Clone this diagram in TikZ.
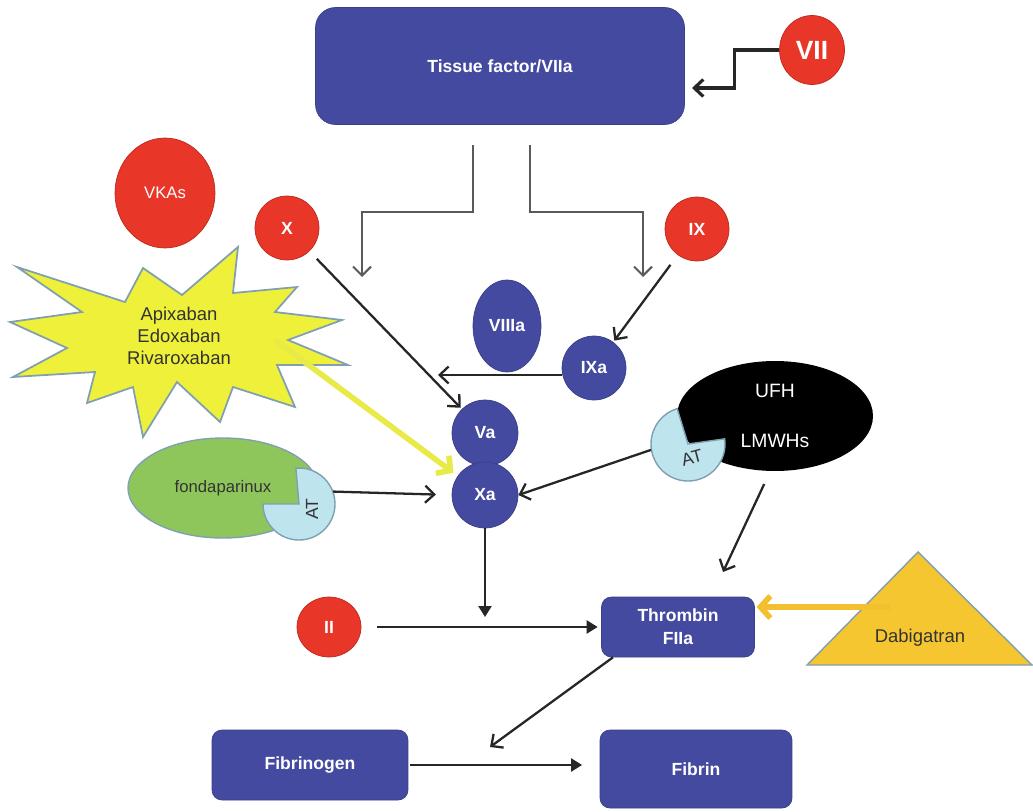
\documentclass[tikz,border=0pt]{standalone}
\usepackage{fontspec}
\setmainfont{Liberation Sans}
\usetikzlibrary{shapes.geometric,arrows.meta}

\definecolor{fblue}{RGB}{67,74,160}
\definecolor{fred}{RGB}{232,54,40}
\definecolor{burst}{RGB}{238,240,58}
\definecolor{rim}{RGB}{128,160,178}
\definecolor{fgreen}{RGB}{142,198,92}
\definecolor{atblue}{RGB}{190,228,238}
\definecolor{dabfill}{RGB}{246,198,48}
\definecolor{yarrow}{RGB}{232,234,72}
\definecolor{oarrow}{RGB}{242,192,46}
\definecolor{cgrey}{RGB}{90,90,90}
\newcommand{\fsz}[1]{\fontsize{#1}{1.25\dimexpr#1pt\relax}\selectfont}

\begin{document}
\begin{tikzpicture}[x=0.02cm,y=-0.02cm,
  bluebox/.style={draw=fblue!85!black, fill=fblue, rounded corners=0.2cm,
    text=white, font=\bfseries\fsz{10}, align=center, inner sep=0pt},
  redball/.style={circle, draw=fred!80!black, fill=fred, text=white,
    font=\bfseries\fsz{10}, inner sep=0pt},
  blueball/.style={circle, draw=fblue!85!black, fill=fblue, text=white,
    font=\bfseries\fsz{10}, inner sep=0pt},
  atpie/.style={draw=rim, fill=atblue, line width=0.8pt},
  arr/.style={draw=black!85, line width=1.3pt, -{Straight Barb[length=1.8mm,width=3.4mm]}},
  farr/.style={draw=black!85, line width=1.3pt, -{Triangle[length=2.2mm,width=2.6mm]}},
  gconn/.style={draw=cgrey, line width=1.2pt, -{Straight Barb[length=1.8mm,width=3.6mm]}},
  fatarr/.style={line width=3.2pt, -{Straight Barb[length=2mm,width=4.4mm]}}]
\useasboundingbox (0,0) rectangle (1033,811);

% blue boxes
\node[bluebox, minimum width=7.38cm, minimum height=2.34cm, rounded corners=0.4cm] (tf) at (500,66) {Tissue factor/VIIa};
\node[bluebox, minimum width=3.06cm, minimum height=1.2cm, font=\bfseries\fontsize{10}{13}\selectfont] (thr) at (678,627) {Thrombin\\FIIa};
\node[bluebox, minimum width=3.92cm, minimum height=1.4cm] (fgen) at (310,765) {Fibrinogen};
\node[bluebox, minimum width=3.84cm, minimum height=1.56cm] (fib) at (696,769) {Fibrin};

% factors
\node[redball, ellipse, minimum width=1.3cm, minimum height=1.38cm, font=\bfseries\fsz{15}] (vii) at (812,50) {VII};
\node[redball, ellipse, minimum width=2cm, minimum height=2.2cm, font=\fsz{9.5}] (vkas) at (165,193) {VKAs};
\node[redball, minimum size=1.28cm] (fx) at (287,228) {X};
\node[redball, minimum size=1.28cm] (fix) at (697,229) {IX};
\node[redball, ellipse, minimum width=1.28cm, minimum height=1.2cm] (fii) at (329,627) {II};
\node[blueball, ellipse, minimum width=1.36cm, minimum height=1.84cm] (viiia) at (507,326) {VIIIa};
\node[blueball, minimum size=1.28cm] (ixa) at (594,368) {IXa};
\node[blueball, minimum size=1.32cm] (va) at (485,433) {Va};
\node[blueball, minimum size=1.32cm] (xa) at (485,495) {Xa};

% oral Xa inhibitors
\filldraw[draw=rim, fill=burst, line width=1pt]
     (17,267) -- (125,302) -- (143,268) -- (182,295) -- (238,247) -- (233,293)
  -- (297,287) -- (275,312) -- (342,320) -- (288,340) -- (348,365) -- (277,365)
  -- (295,407) -- (233,387) -- (220,422) -- (177,382) -- (143,437) -- (133,387)
  -- (87,403) -- (95,372) -- (13,377) -- (67,348) -- (10,322) -- (82,312) -- cycle;
\node[align=center, text=black!80, font=\fontsize{10.5}{12.6}\selectfont] (xabans) at (179,336) {Apixaban\\Edoxaban\\Rivaroxaban};

% fondaparinux with AT
\node[ellipse, draw=rim, fill=fgreen, line width=0.8pt, minimum width=3.8cm, minimum height=2cm,
  text=black!80, font=\fsz{9.5}] (fonda) at (223,488) {fondaparinux};
\node[circle, minimum size=1.44cm, inner sep=0pt] (atf) at (299,504) {};
\filldraw[atpie] (atf.center) -- ++(-180:36) arc[start angle=-180, end angle=-455, radius=36] -- cycle;
\node[rotate=90, text=black!80, font=\fsz{10}] (atflbl) at (312,509) {AT};

% heparins with AT
\node[ellipse, fill=black, minimum width=3.92cm, minimum height=2.2cm, text=white,
  align=center, font=\fsz{11}] (ufh) at (775,416) {UFH\\[15pt]LMWHs};
\node[circle, minimum size=1.48cm, inner sep=0pt] (atu) at (688,444) {};
\filldraw[atpie] (atu.center) -- ++(-107:37) arc[start angle=-107, end angle=-368, radius=37] -- cycle;
\node[rotate=15, text=black!80, font=\fsz{10}] (atulbl) at (692,458) {AT};

% dabigatran
\filldraw[draw=rim, fill=dabfill, line width=0.8pt] (807,665) -- (1032,665) -- (918,552) -- cycle;
\node[text=black!80, font=\fsz{10.5}] (dab) at (920,638) {Dabigatran};

% free ends
\coordinate (tfin) at (692,88);
\coordinate (tl) at (473,145);
\coordinate (tr) at (530,145);
\coordinate (xjoin) at (362,277);
\coordinate (ixjoin) at (643,277);
\coordinate (vjoin) at (438,375);
\coordinate (xabs) at (275,340);
\coordinate (hep) at (723,572);
\coordinate (iijoin) at (485,617);
\coordinate (dabs) at (890,607);
\coordinate (fjoin) at (490,747);

% connectors
\draw[arr, line width=1.8pt] (vii.west) -- ++(-45,0) |- (tfin);
\draw[gconn] (tl) -- ++(0,67) -| (xjoin);
\draw[gconn] (tr) -- ++(0,67) -| (ixjoin);
\draw[arr, shorten <=6pt, shorten >=1pt] (fx) -- (va);
\draw[arr, shorten <=7pt, shorten >=1pt] (fix) -- (ixa);
\draw[arr] (ixa.west |- vjoin) -- (vjoin);
\draw[fatarr, draw=yarrow, shorten >=3pt] (xabs) -- (xa.145);
\draw[arr, shorten >=9pt] (atf.20) -- (xa.west);
\draw[arr] (atu.189) -- (xa.east);
\draw[arr, shorten <=8pt] (ufh.-95) -- (hep);
\draw[farr] (xa.south) -- (iijoin);
\draw[farr, shorten <=9pt, shorten >=2pt] (fii.east) -- (thr.west);
\draw[fatarr, draw=oarrow, shorten >=1pt] (dabs) -- (dabs -| thr.east);
\draw[arr] (thr.205) -- (fjoin);
\draw[farr, shorten <=1pt, shorten >=10pt] (fgen.east) -- (fgen.east -| fib.west);
\end{tikzpicture}
\end{document}
